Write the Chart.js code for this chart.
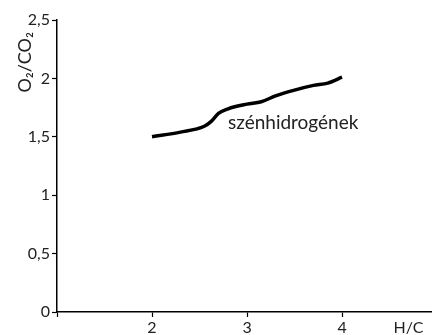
<!DOCTYPE html>
<html>
<head>
<meta charset="utf-8">
<script src="https://cdn.jsdelivr.net/npm/chart.js@4"></script>
<style>
  html, body { margin: 0; padding: 0; background: #fff; }
  #wrap { width: 432px; height: 335px; }
</style>
</head>
<body>
<div id="wrap"><canvas id="chart"></canvas></div>
<script>
// H/C ratio vs O2/CO2 for hydrocarbons
const hcValues = [2.0, 2.3, 2.55, 2.62, 2.7, 2.8, 3.0, 3.15, 3.3, 3.5, 3.7, 3.85, 4.0];
const o2co2Values = [1.50, 1.54, 1.59, 1.63, 1.70, 1.74, 1.78, 1.80, 1.85, 1.90, 1.94, 1.96, 2.01];
const xTicks = [1, 2, 3, 4];
const yTicks = [0, 0.5, 1, 1.5, 2, 2.5];
const xAxisLabel = 'H/C';
const xAxisLabelAt = 4.7;
const yAxisLabel = 'O₂/CO₂';
const seriesLabel = 'szénhidrogének';
const seriesLabelAt = { x: 2.8, y: 1.62 };

const font = "Lato, sans-serif";

const labels = {
    id: 'labels',
    afterDatasetsDraw(chart) {
        const { ctx, scales } = chart;
        ctx.save();
        ctx.fillStyle = '#222';
        // series name next to the curve
        ctx.font = `19px ${font}`;
        ctx.textAlign = 'left';
        ctx.textBaseline = 'middle';
        ctx.fillText(seriesLabel, scales.x.getPixelForValue(seriesLabelAt.x), scales.y.getPixelForValue(seriesLabelAt.y));
        // rotated y axis title, near the top
        ctx.font = `18px ${font}`;
        ctx.translate(25, scales.y.top + 12);
        ctx.rotate(-Math.PI / 2);
        ctx.textAlign = 'right';
        ctx.fillText(yAxisLabel, 0, 0);
        ctx.restore();
    }
};

new Chart(document.getElementById('chart'), {
    type: 'line',
    data: {
        datasets: [{
            label: seriesLabel,
            data: hcValues.map((x, i) => ({ x: x, y: o2co2Values[i] })),
            borderColor: '#000',
            borderWidth: 3.5,
            pointRadius: 0,
            tension: 0.4,
            cubicInterpolationMode: 'monotone',
            fill: false
        }]
    },
    options: {
        responsive: true,
        maintainAspectRatio: false,
        animation: false,
        layout: { padding: { top: 20, right: 0, left: 0, bottom: 0 } },
        plugins: { legend: { display: false }, tooltip: { enabled: false } },
        scales: {
            x: {
                type: 'linear',
                min: 1,
                max: 4.947,
                afterBuildTicks: (scale) => {
                    scale.ticks = xTicks.map(v => ({ value: v })).concat([{ value: xAxisLabelAt }]);
                },
                afterFit: (scale) => { scale.height = 23; },
                border: { color: '#000', width: 1.5 },
                grid: {
                    drawOnChartArea: false,
                    tickLength: 5,
                    tickWidth: 1.2,
                    tickColor: (c) => (c.tick && c.tick.value === xAxisLabelAt ? 'rgba(0,0,0,0)' : '#000')
                },
                ticks: {
                    padding: 1,
                    color: '#222',
                    font: { family: font, size: 16 },
                    maxRotation: 0,
                    autoSkip: false,
                    callback: (v) => (v === xAxisLabelAt ? xAxisLabel : v === 1 ? '' : String(v))
                }
            },
            y: {
                min: 0,
                max: 2.5,
                afterBuildTicks: (scale) => {
                    scale.ticks = yTicks.map(v => ({ value: v }));
                },
                afterFit: (scale) => { scale.width = 57; },
                border: { color: '#000', width: 1.5 },
                grid: { drawOnChartArea: false, tickLength: 5, tickWidth: 1.2, tickColor: '#000' },
                ticks: {
                    padding: 2,
                    color: '#222',
                    font: { family: font, size: 16 },
                    callback: (v) => String(v).replace('.', ',')
                }
            }
        }
    },
    plugins: [labels]
});
</script>
</body>
</html>
